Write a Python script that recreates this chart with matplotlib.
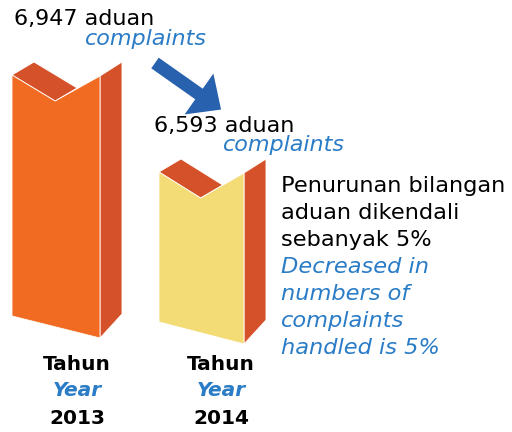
import matplotlib
matplotlib.use("Agg")
import matplotlib.pyplot as plt
from matplotlib.patches import Polygon, FancyArrow

# data
years = ["2013", "2014"]
complaints = [6947, 6593]
# bar heights as drawn in the infographic (not to scale with the values)
bar_heights = [241, 150]
front_colors = ["#F26B22", "#F3DC76"]
side_color = "#D5512A"
blue_txt = "#2A7CC6"
blue_arrow = "#2862AE"

plt.rcParams["font.family"] = ["DejaVu Sans"]

fig = plt.figure(figsize=(5.12, 4.32), dpi=100)
ax = fig.add_axes([0, 0, 1, 1])
ax.set_xlim(0, 512)
ax.set_ylim(432, 0)
ax.axis("off")

# layout (pixels)
bar_left = [12, 159]
bar_base = [316, 322]   # bottom of left front edge
bar_w = [88, 85]
notch = 26
depth_x, depth_top, depth_bot = 22, 13, 24
slant = 22


def draw_bar(x0, base, h, w, color):
    top = base - h
    x1 = x0 + w
    xm = x0 + w * 0.49
    front = [(x0, top), (xm, top + notch), (x1, top + 1), (x1, base + slant), (x0, base)]
    topface = [(x0, top), (x0 + depth_x, top - depth_top),
               (xm + depth_x, top + notch - depth_top), (xm, top + notch)]
    side = [(x1, top + 1), (x1 + depth_x, top + 1 - depth_top - 1),
            (x1 + depth_x, base + slant - depth_bot), (x1, base + slant)]
    for pts, c in [(side, side_color), (topface, side_color), (front, color)]:
        ax.add_patch(Polygon(pts, closed=True, facecolor=c, edgecolor="white", lw=0.6))


for i in range(len(years)):
    draw_bar(bar_left[i], bar_base[i], bar_heights[i], bar_w[i], front_colors[i])

# value labels
ax.text(14, 19, f"{complaints[0]:,} aduan", fontsize=16, color="black", va="center", ha="left")
ax.text(85, 39, "complaints", fontsize=16, color=blue_txt, style="italic", va="center", ha="left")
ax.text(154, 126, f"{complaints[1]:,} aduan", fontsize=16, color="black", va="center", ha="left")
ax.text(223, 145, "complaints", fontsize=16, color=blue_txt, style="italic", va="center", ha="left")

# arrow
ax.add_patch(FancyArrow(155, 63, 44, 31, width=13, head_width=50, head_length=27,
                        length_includes_head=False, color=blue_arrow, lw=0))

# year labels
centers = [77, 221]
for i in range(len(years)):
    ax.text(centers[i], 365, "Tahun", fontsize=14.5, fontweight="bold", ha="center", va="center")
    ax.text(centers[i], 391, "Year", fontsize=14.5, fontweight="bold", style="italic",
            color=blue_txt, ha="center", va="center")
    ax.text(centers[i], 418, years[i], fontsize=14.5, fontweight="bold", ha="center", va="center")

# note on the right
lines_my = ["Penurunan bilangan", "aduan dikendali", "sebanyak 5%"]
lines_en = ["Decreased in", "numbers of", "complaints", "handled is 5%"]
y = 186
for s in lines_my:
    ax.text(281, y, s, fontsize=16.2, ha="left", va="center")
    y += 27
for s in lines_en:
    ax.text(281, y, s, fontsize=16.2, ha="left", va="center", style="italic", color=blue_txt)
    y += 27

fig.savefig("out.png", dpi=100)
